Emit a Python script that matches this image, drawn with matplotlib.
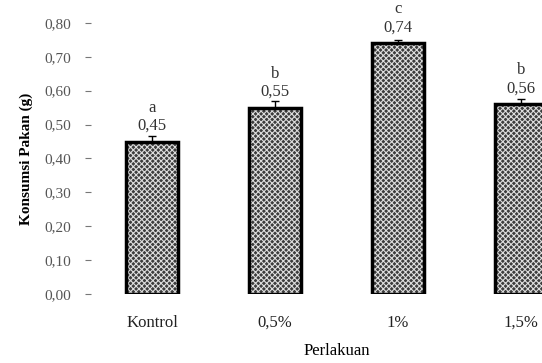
import numpy as np
import matplotlib.pyplot as plt

# data
perlakuan = ['Kontrol', '0,5%', '1%', '1,5%']
konsumsi = [0.45, 0.55, 0.74, 0.56]
galat = [0.015, 0.02, 0.01, 0.015]
notasi = ['a', 'b', 'c', 'b']
label_nilai = ['0,45', '0,55', '0,74', '0,56']
yticks = [0.0, 0.1, 0.2, 0.3, 0.4, 0.5, 0.6, 0.7, 0.8]

plt.rcParams['font.family'] = ['Liberation Serif', 'DejaVu Serif']
plt.rcParams['hatch.linewidth'] = 0.8

fig = plt.figure(figsize=(5.42, 3.63), dpi=100)
ax = fig.add_axes([0.167, 0.19, 0.908, 0.747])

x = np.arange(len(perlakuan))
lebar = 0.42

# isi arsir
ax.bar(x, konsumsi, lebar, color='#3c3c3c', edgecolor='#dddddd', hatch='xxxxxx',
       linewidth=0, zorder=2)
# tepi hitam
ax.bar(x, konsumsi, lebar, color='none', edgecolor='black', linewidth=2.5,
       zorder=3)
ax.errorbar(x, konsumsi, yerr=[np.zeros(len(galat)), galat], fmt='none',
            ecolor='black', elinewidth=1, capsize=3, zorder=4)

for xi, v, lab, n in zip(x, konsumsi, label_nilai, notasi):
    ax.text(xi, v + 0.047, lab, ha='center', va='center', fontsize=12,
            color='#333333', clip_on=False)
    ax.text(xi, v + 0.1, n, ha='center', va='center', fontsize=12,
            color='#333333', clip_on=False)

ax.set_xlim(-0.5, 3.5)
ax.set_ylim(0, 0.8)
ax.set_yticks(yticks)
ax.set_yticklabels([f'{t:.2f}'.replace('.', ',') for t in yticks],
                   color='#555555', fontsize=11)
ax.set_xticks(x)
ax.set_xticklabels(perlakuan, fontsize=12, color='#222222')
ax.tick_params(axis='x', length=0, pad=15)
ax.tick_params(axis='y', length=4, pad=10, color='#777777')

for s in ax.spines.values():
    s.set_visible(False)

ax.set_ylabel('Konsumsi Pakan (g)', fontsize=11, fontweight='bold', labelpad=8)
ax.set_xlabel('Perlakuan', fontsize=12, labelpad=9)

fig.savefig('out.png', dpi=100)
